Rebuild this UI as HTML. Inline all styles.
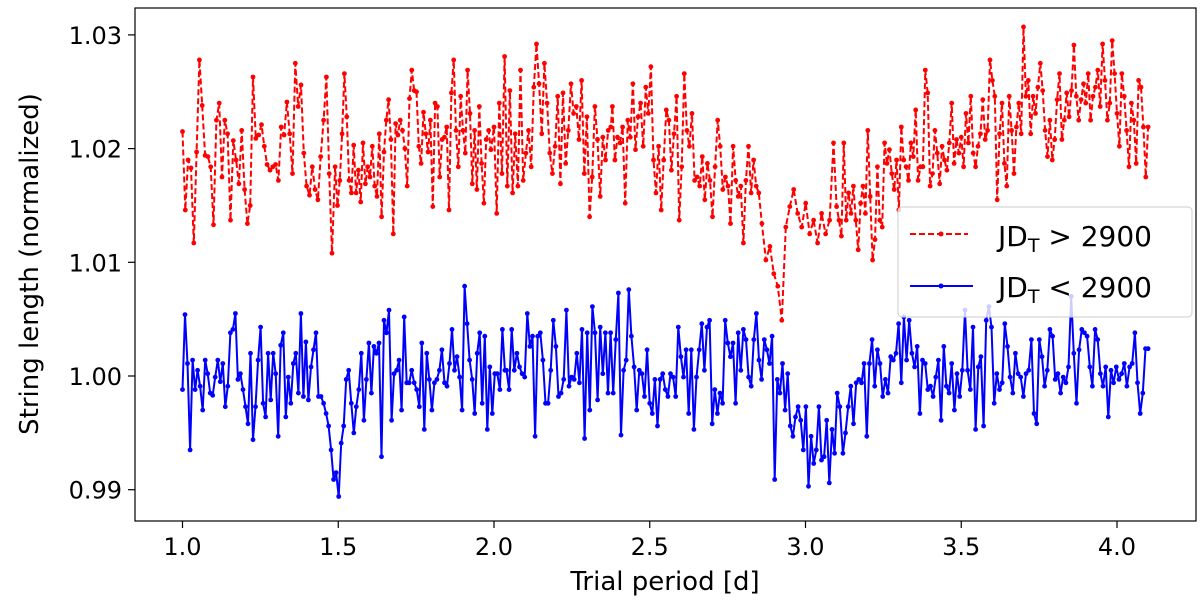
<!DOCTYPE html>
<html><head><meta charset="utf-8"><style>
body{margin:0;background:#fff;}
svg{display:block;font-family:"DejaVu Sans","Liberation Sans",sans-serif;}
</style></head><body>
<svg id="chart" width="1200" height="608" viewBox="0 0 1200 608" xmlns="http://www.w3.org/2000/svg">
<rect x="0" y="0" width="1200" height="608" fill="#fff"/>
<g id="series"></g>
<rect x="135" y="8" width="1061" height="513" fill="none" stroke="#000" stroke-width="1.2"/>
<g id="axes"></g>
<text x="665" y="590" font-size="26" text-anchor="middle">Trial period [d]</text>
<text transform="translate(38,264) rotate(-90)" font-size="26" text-anchor="middle">String length (normalized)</text>
<g>
<rect x="898" y="207" width="294" height="110" rx="4" fill="#fff" fill-opacity="0.8" stroke="#ccc" stroke-width="1"/>
<g>
<line x1="910" y1="234" x2="968" y2="234" stroke="#f00" stroke-width="2" stroke-dasharray="6,3"/>
<circle cx="941" cy="234" r="2.5" fill="#f00"/>
<text x="998" y="246" font-size="28">JD<tspan font-size="19" dy="6">T</tspan><tspan dy="-6"> &gt; 2900</tspan></text>
</g>
<g>
<line x1="910" y1="286" x2="973" y2="286" stroke="#00f" stroke-width="2"/>
<circle cx="941" cy="286" r="2.5" fill="#00f"/>
<text x="998" y="297" font-size="28">JD<tspan font-size="19" dy="6">T</tspan><tspan dy="-6"> &lt; 2900</tspan></text>
</g>
</g>
</svg>
<script>
// x tick values and y tick values
const xTicks=[1.0,1.5,2.0,2.5,3.0,3.5,4.0];
const xTickLabels=["1.0","1.5","2.0","2.5","3.0","3.5","4.0"];
const yTicks=[0.99,1.00,1.01,1.02,1.03];
const yTickLabels=["0.99","1.00","1.01","1.02","1.03"];
// segment period ranges [start,end] ; values are deviations in units of 1e-3 above 1
const redRanges=[[1.0,1.48],[1.49,1.99],[2.0,2.375],[2.38,2.85],[2.86,3.09],[3.10,4.10]];
const redSeg0=[21.5,14.6,19.0,18.3,11.7,19.7,27.8,23.8,19.4,19.3,18.4,13.3,22.5,24,17.5,22.5,21.3,13.7,20.7,19,16.9,21.6,16.4,13.4,15,26.3,20.9,21.2,22.1,20.2,18.6,18.1,18.4,18.6,17.2,21.9,21.2,24.1,21.3,17.8,27.5,23.7,25.6,19.6,16.7,15.9,18.4,16.4,15.5,19.3,22.5,26.3,17.8,10.8];
const redSeg1=[18.4,15,17.2,21.3,26.6,22.8,17.2,16.1,20.3,16.1,18.1,15.3,20.5,16.9,18.4,17.5,20.2,16.7,15.8,21.3,14,19.7,22.5,24.3,20.8,12.5,22.2,21.2,22.5,21.6,20,16.7,24.4,26.9,25.1,25,20.2,18.7,23.2,21.3,19.7,22.5,14.9,24,23.7,17.5,20.8,21,21.9,14.6,24.9,27.8,21.6,18.4,24.6,21.6,19.6,26.9,23.1,16.9,21.6,16.4,23.7,18.7,15.2,20.8,21.6,19.9];
const redSeg2=[21.9,14.3,24,17.8,28.1,16.7,25.1,16.1,21.3,16.7,26.9,17.2,19.6,21.6,18.4,25.4,29.2,25.7,21.3,27.5,24,19.6,17.8,20.2,24.6,16.9,24.9,18.7,21.6,25.7,23.1,23.7,20.8,26,17.8,22.8,14,17.5,23.7,20.8,15.8,21,19,21.6,21.9];
const redSeg3=[23.7,19,21,20.5,21.9,15.2,22.5,21,25.7,19.9,22.8,24,20.2,25.4,23.1,27.2,19,16.1,20.2,14.6,19,23.4,22.5,18.1,21.3,24.6,13.7,18.4,26.6,21.6,20.2,23.1,17.2,17.5,16.7,19.3,15.5,18.7,17.2,14,18.4,22.5,20.2,16.4,17.5,16.7,13.4,20.2,17.2,15.8,16.7,11.7,17.2,20.2,16.1,19,16.7,16.1];
const redSeg4=[13.4,10.2,11.4,9.0,7.9,4.9,13.1,14.9,16.4,14.3,13.1,15.2,12.5,13.7,11.7,14.3,12.5,13.7,20.5];
const redSeg5=[14.9,13.7,12.3,20.5,13.7,16.1,14.3,16.7,13.7,11.1,15.2,16.7,14.3,21.6,15.8,10.2,12,18.4,13.7,13.1,20.5,18.7,19.9,17.8,16.4,19,14.6,21.9,19,18.4,17.2,20.5,19.3,23.4,17.2,18.4,18.4,26.9,24.9,16.7,17.8,21.6,19.6,16.9,20.2,19,18.1,20.5,24,18.7,20.8,19.6,21,18.4,23.1,20.5,24.6,19.6,18.4,20.2,21.3,24.3,20.8,21.6,27.8,26,24.6,15.5,21.3,24,18.7,16.7,24.6,21.6,17.8,21.9,24,21.3,30.7,24.6,26,21.3,24.6,23.1,25.4,27.5,25.1,21.6,19.3,22.5,19,20.8,24.3,26.6,20.8,22.5,24.9,22.8,25.1,29.1,24.6,22.5,24.3,25.7,24,26.6,22.5,24.6,25.4,26.9,23.7,29.2,26,22.5,24,29.5,26.6,23.1,20.2,26.6,24.6,21.6,18.4,24,22.5,18.7,26,25.4,21.9,17.5,21.9];
const redSegs=[redSeg0,redSeg1,redSeg2,redSeg3,redSeg4,redSeg5];

const blueRanges=[[1.0,2.035],[2.04,3.11],[3.12,4.10]];
const blueSeg0=[-1.2,5.4,1.1,-6.5,1.4,-1.2,0.5,-0.9,-3,1.4,0.2,-1.5,-1.7,-0.1,1.4,-0.5,1.1,-2.7,-0.9,3.8,4.1,5.5,-0.3,0.2,-1.2,-2.7,-4.2,2,-5.6,-2.7,1.4,4.3,-2.4,-3.6,2,-2.1,2,0.2,-5.3,2.7,3.8,-3.6,-0.1,-2.4,1.1,2,-1.5,5.5,-1.8,3,-2.1,0.8,2.3,3.8,-1.8,-1.8,-2.4,-3.3,-4.4,-6.5,-9.1,-8.5,-10.6,-5.9,-4.4,-0.3,0.5,-2.4,-5,-2.7,-1.2,2,-3.9,-0.3,2.9,-1.5,2.6,2,2.9,-7.1,4.9,3.8,5.8,-3.9,0.2,0.5,1.4,-3,5.2,-0.6,-0.6,0.5,-0.6,-1.2,-2.7,2.9,-4.7,2,-0.3,-3,-0.6,-0.3,0.5,2.3,-0.6,-0.9,1.1,4.1,0.5,1.7,-0.1,-3,7.9,4.6,1.4,-0.3,-3.3,2,3.8,-2.4,3.5,-4.7,0.8,-3.3,0.2,0.2,-1.2,4.1,0.5];
const blueSeg1=[0.5,-1.2,4.1,0.5,2,0.8,0.2,-0.1,5.5,2.6,3.5,-5.3,3.5,3.8,1.4,-2.4,-2.4,0.5,4.9,2.6,-1.8,-1.5,-0.3,5.8,-0.9,-0.1,-0.3,2,-0.6,4.1,-5.5,3.8,-3,6.1,3.8,-2.1,4.3,0.2,3.8,-1.5,3.8,-1.5,3.2,7.3,-5.2,0.5,1.4,7.6,3.5,0.8,-3,0.5,0.2,-1.8,2.3,-2.4,-3.3,-0.3,-4.4,-0.3,0.2,-1.2,-1.8,0.2,-0.1,-1.8,4.3,1.7,-0.1,2.3,-3.3,2.3,-4.7,-0.1,2.3,4.6,0.5,4.3,4.9,-4.2,-1.2,-3.3,-1.5,-2.4,4.9,2.9,1.7,2.9,-2.4,3.8,0.5,4.1,3.2,-0.1,-0.9,3.2,5.5,1.4,-0.3,3.2,2.3,1.1,3.5,-9.1,-0.3,-1.5,1.1,-3,0.2,-4.4,-5.3,-3.6,-2.7,-3.9,-6.5,-2.7,-9.7,-5.3,-7.7,-6.5,-2.7,-7.4,-7.1,-3.9,-9.4,-4.7,-6.8,-1.5,-2.7];
const blueSeg2=[-6.8,-5,-2.7,-0.9,-4.2,-0.6,-0.3,-0.6,1.1,-5.3,1.1,3.2,-0.9,2.3,1.1,-1.8,-0.3,-1.5,1.7,1.4,2,4.6,-0.6,5.2,1.4,4.9,2,0.8,2.6,-3.3,1.4,1.1,-1.2,-0.9,-1.8,-0.1,1.4,-3.9,2.6,-0.9,-1.5,1.1,-3,0.2,-1.8,0.5,5.8,0.5,-1.2,4.3,-4.7,0.8,1.7,-4.4,4.9,6.1,4.3,-2.4,0.2,-1.2,-0.6,4.6,2.6,-0.1,-1.5,2,0.2,-0.1,-1.8,0.2,0.5,3.2,-3.3,-4.2,3.2,1.7,-0.9,0.5,4.1,3.5,-0.3,0.2,-1.5,-0.1,-0.6,0.8,7,2,-2.4,2.3,4.1,3.8,3.5,0.8,-0.9,4.1,3.2,0.2,-0.9,0.8,-3.6,0.5,-0.6,0.8,-0.3,0.2,1.1,-0.9,0.8,1.1,3.8,-0.6,-3.3,-1.5,2.4,2.4];
const blueSegs=[blueSeg0,blueSeg1,blueSeg2];

const NS="http://www.w3.org/2000/svg";
const X0=182.5, XS=311.5, Y0=376, YS=11370;
function xScale(p){return X0+(p-1)*XS;}
function yScale(len){return Y0-(len-1)*YS;}
function mk(tag,attrs,parent){const e=document.createElementNS(NS,tag);for(const k in attrs)e.setAttribute(k,attrs[k]);parent.appendChild(e);return e;}
function buildPoints(ranges,segs){
  const pts=[];
  segs.forEach((seg,i)=>{const [a,b]=ranges[i];const n=seg.length;
    seg.forEach((v,j)=>{const p=n>1?a+(b-a)*j/(n-1):a;pts.push([xScale(p),yScale(1+v/1000)]);});});
  return pts;
}
const series=document.getElementById('series');
function drawSeries(pts,color,dash,name){
  const g=mk('g',{},series);
  
  
  const pl=mk('polyline',{points:pts.map(p=>p[0].toFixed(1)+','+p[1].toFixed(1)).join(' '),fill:'none',stroke:color,'stroke-width':2,'stroke-linejoin':'round'},g);
  if(dash)pl.setAttribute('stroke-dasharray',dash);
  
  
  pts.forEach(p=>{const c=mk('circle',{cx:p[0].toFixed(1),cy:p[1].toFixed(1),r:2.4,fill:color},g);
    
    });
}
drawSeries(buildPoints(redRanges,redSegs),'#f00','6,3','red-series-jd-gt-2900');
drawSeries(buildPoints(blueRanges,blueSegs),'#00f',null,'blue-series-jd-lt-2900');

const axes=document.getElementById('axes');
xTicks.forEach((t,i)=>{const x=xScale(t);
  const l=mk('line',{x1:x,y1:521,x2:x,y2:528,stroke:'#000','stroke-width':1.2},axes);
  
  
  const tx=mk('text',{x:x,y:555,'font-size':24,'text-anchor':'middle'},axes);tx.textContent=xTickLabels[i];
  
  });
yTicks.forEach((t,i)=>{const y=yScale(t);
  const l=mk('line',{x1:128,y1:y,x2:135,y2:y,stroke:'#000','stroke-width':1.2},axes);
  
  
  const tx=mk('text',{x:122,y:y+9,'font-size':24,'text-anchor':'end'},axes);tx.textContent=yTickLabels[i];
  
  });
</script>
</body></html>
